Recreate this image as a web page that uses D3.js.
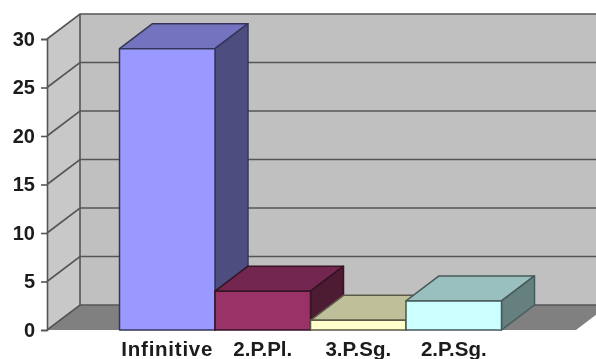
<!DOCTYPE html>
<html>
<head>
<meta charset="utf-8">
<script src="https://cdn.jsdelivr.net/npm/d3@7"></script>
<style>
    body { margin: 0; background: #fff; }
    svg { display: block; }
    text { font-family: "Liberation Sans", Arial, sans-serif; font-weight: bold; fill: #1a1a1a; }
</style>
</head>
<body>
<div id="chart"></div>
<script>
// Data
const categories = ["Infinitive", "2.P.Pl.", "3.P.Sg.", "2.P.Sg."];
const values = [29, 4, 1, 3];
const yTicks = [0, 5, 10, 15, 20, 25, 30];
const frontColors = ["#9999ff", "#993366", "#ffffcc", "#ccffff"];
const topColors = ["#7373bf", "#732650", "#bfbf99", "#99bfbf"];
const sideColors = ["#4d4d80", "#4d1a33", "#808066", "#668080"];

const width = 596, height = 359;
// 3D offset of the back wall from the front plane
const depthX = 33, depthY = -25;

const svg = d3.select("#chart")
    .append("svg")
    .attr("width", width)
    .attr("height", height);

// Soft blur, the original is an enlarged bitmap
svg.append("defs").append("filter")
    .attr("id", "soft")
    .append("feGaussianBlur")
    .attr("stdDeviation", 0.5);

const root = svg.append("g").attr("filter", "url(#soft)");

// Scales
const yScale = d3.scaleLinear().domain([0, 30]).range([330, 39]);
const xScale = d3.scaleBand().domain(categories).range([119.5, 501.5]);

const wallLeft = 47;
const wallRight = 576;
const poly = pts => pts.map(p => p.join(",")).join(" ");

// Back wall
root.append("polygon")
    .attr("points", poly([
        [wallLeft + depthX, yScale(30) + depthY],
        [wallRight + depthX, yScale(30) + depthY],
        [wallRight + depthX, yScale(0) + depthY],
        [wallLeft + depthX, yScale(0) + depthY]
    ]))
    .attr("fill", "#c0c0c0");

// Side wall
root.append("polygon")
    .attr("points", poly([
        [wallLeft, yScale(30)],
        [wallLeft + depthX, yScale(30) + depthY],
        [wallLeft + depthX, yScale(0) + depthY],
        [wallLeft, yScale(0)]
    ]))
    .attr("fill", "#c8c8c8");

// Floor
root.append("polygon")
    .attr("points", poly([
        [wallLeft, yScale(0)],
        [wallLeft + depthX, yScale(0) + depthY],
        [wallRight + depthX, yScale(0) + depthY],
        [wallRight, yScale(0)]
    ]))
    .attr("fill", "#808080");

// Grid lines on both walls
const grid = root.append("g")
    .attr("fill", "none")
    .attr("stroke", "#555")
    .attr("stroke-width", 1.6);

grid.selectAll("polyline")
    .data(yTicks)
    .enter()
    .append("polyline")
    .attr("points", d => poly([
        [wallLeft, yScale(d)],
        [wallLeft + depthX, yScale(d) + depthY],
        [wallRight + depthX, yScale(d) + depthY]
    ]));

grid.append("line")
    .attr("x1", wallLeft + depthX)
    .attr("x2", wallLeft + depthX)
    .attr("y1", yScale(30) + depthY)
    .attr("y2", yScale(0) + depthY);

// Bars, left to right so the later ones overlap the earlier sides
const bars = root.selectAll("g.bar")
    .data(categories)
    .enter()
    .append("g")
    .attr("class", "bar")
    .attr("stroke-width", 1.5)
    .attr("stroke-linejoin", "round");

const edgeColor = (d, i) => d3.color(sideColors[i]).darker(1);

bars.append("polygon")
    .attr("class", "top")
    .attr("points", (d, i) => {
        const x0 = xScale(d), x1 = x0 + xScale.bandwidth(), y = yScale(values[i]);
        return poly([[x0, y], [x0 + depthX, y + depthY], [x1 + depthX, y + depthY], [x1, y]]);
    })
    .attr("fill", (d, i) => topColors[i])
    .attr("stroke", edgeColor);

bars.append("polygon")
    .attr("class", "side")
    .attr("points", (d, i) => {
        const x1 = xScale(d) + xScale.bandwidth(), y = yScale(values[i]), y0 = yScale(0);
        return poly([[x1, y], [x1 + depthX, y + depthY], [x1 + depthX, y0 + depthY], [x1, y0]]);
    })
    .attr("fill", (d, i) => sideColors[i])
    .attr("stroke", edgeColor);

bars.append("rect")
    .attr("class", "front")
    .attr("x", d => xScale(d))
    .attr("y", (d, i) => yScale(values[i]))
    .attr("width", xScale.bandwidth())
    .attr("height", (d, i) => yScale(0) - yScale(values[i]))
    .attr("fill", (d, i) => frontColors[i])
    .attr("stroke", edgeColor);

// Axes
const yAxis = root.append("g")
    .attr("transform", `translate(${wallLeft},0)`)
    .call(d3.axisLeft(yScale).tickValues(yTicks).tickSize(6).tickPadding(6).tickFormat(d3.format("d")));
yAxis.selectAll("line, path").attr("stroke", "#555").attr("stroke-width", 1.6);
yAxis.selectAll("text").style("font-size", "20px").attr("fill", "#1a1a1a");

const xAxis = root.append("g")
    .attr("transform", `translate(0,${yScale(0)})`)
    .call(d3.axisBottom(xScale).tickSize(0).tickPadding(11));
xAxis.select("path").remove();
xAxis.selectAll("text")
    .style("font-size", "20.5px")
    .style("letter-spacing", d => d === "Infinitive" ? "0.75px" : null)
    .attr("fill", "#1a1a1a");
</script>
</body>
</html>
